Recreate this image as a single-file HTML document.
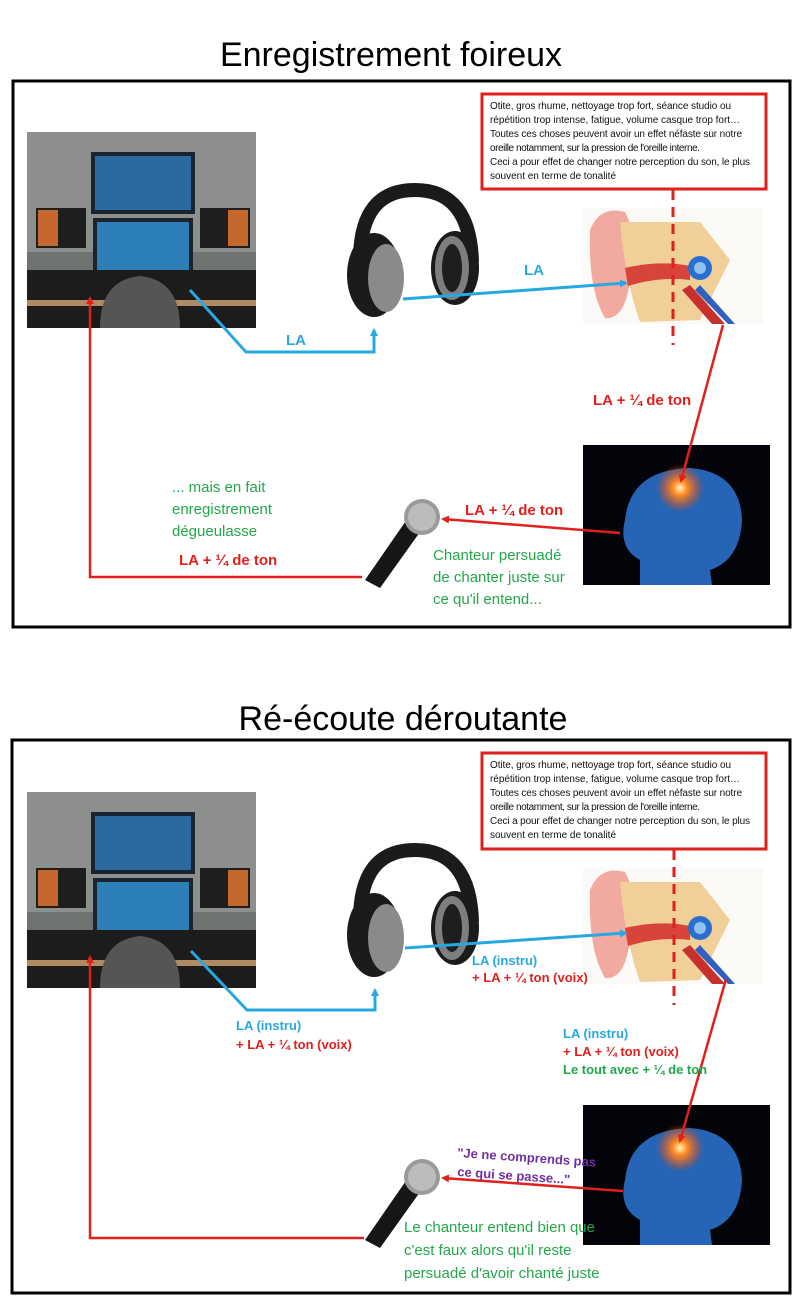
<!DOCTYPE html>
<html><head><meta charset="utf-8"><style>
html,body{margin:0;padding:0;background:#fff;}
svg{display:block;}
text{font-family:"Liberation Sans",sans-serif;}
.t{font-size:34px;fill:#000;}
.bx{font-size:10px;fill:#111;}
.b{font-size:15px;font-weight:bold;fill:#27a8e0;}
.r{font-size:15px;font-weight:bold;fill:#e0201c;}
.rs{font-size:13px;font-weight:bold;fill:#e0201c;}
.bs{font-size:13px;font-weight:bold;fill:#27a8e0;}
.gs{font-size:13px;font-weight:bold;fill:#22a84a;}
.g{font-size:15px;fill:#22a84a;}
.p{font-size:13px;font-weight:bold;fill:#7030a0;}
</style></head><body>
<svg width="800" height="1305" viewBox="0 0 800 1305" xmlns="http://www.w3.org/2000/svg">
<defs>
<marker id="ab" markerWidth="8" markerHeight="8" refX="6" refY="4" orient="auto" markerUnits="userSpaceOnUse"><path d="M0,0 L8,4 L0,8 z" fill="#27a8e0"/></marker>
<marker id="ar" markerWidth="8" markerHeight="8" refX="6" refY="4" orient="auto" markerUnits="userSpaceOnUse"><path d="M0,0 L8,4 L0,8 z" fill="#e0201c"/></marker>
<radialGradient id="glow"><stop offset="0" stop-color="#fff6c0"/><stop offset="0.3" stop-color="#ff8a20"/><stop offset="1" stop-color="#ff4000" stop-opacity="0"/></radialGradient>
<g id="imgs">
 <!-- studio -->
 <rect x="27" y="132" width="229" height="196" fill="#6f7472"/>
 <rect x="27" y="132" width="229" height="120" fill="#8c8f8b"/>
 <rect x="91" y="152" width="104" height="62" fill="#1a2430"/>
 <rect x="95" y="156" width="96" height="54" fill="#2a6aa0"/>
 <rect x="93" y="218" width="100" height="56" fill="#1a2430"/>
 <rect x="97" y="222" width="92" height="48" fill="#2d7fb8"/>
 <rect x="36" y="208" width="50" height="40" fill="#1e1e1e"/>
 <rect x="38" y="210" width="20" height="36" fill="#c5682d"/>
 <rect x="200" y="208" width="50" height="40" fill="#1e1e1e"/>
 <rect x="228" y="210" width="20" height="36" fill="#c5682d"/>
 <rect x="27" y="270" width="229" height="58" fill="#1c1c1c"/>
 <rect x="27" y="300" width="229" height="6" fill="#b08a60"/>
 <path d="M100,328 Q100,280 140,276 Q180,280 180,328z" fill="#555"/>
 <!-- headphones -->
 <path d="M360,260 Q360,190 415,190 Q470,190 472,262" fill="none" stroke="#1b1b1b" stroke-width="14"/>
 <ellipse cx="374" cy="275" rx="27" ry="42" fill="#1b1b1b"/>
 <ellipse cx="386" cy="278" rx="18" ry="34" fill="#8a8a8a"/>
 <ellipse cx="455" cy="268" rx="24" ry="37" fill="#1b1b1b"/>
 <ellipse cx="452" cy="268" rx="17" ry="32" fill="#7e7e7e"/>
 <ellipse cx="452" cy="268" rx="10" ry="24" fill="#1e1e1e"/>
 <!-- ear -->
 <rect x="583" y="208" width="180" height="116" fill="#fbfaf7"/>
 <path d="M590,230 Q600,205 625,212 Q640,240 630,280 Q625,320 605,318 Q588,290 590,230z" fill="#f2a9a0"/>
 <path d="M620,222 L700,222 L730,260 L700,320 L640,322 Q625,280 620,222z" fill="#f1cf98"/>
 <path d="M625,268 Q660,260 690,266 L690,280 Q660,276 628,286z" fill="#d9443a"/>
 <circle cx="700" cy="268" r="12" fill="#2a6fd0"/>
 <circle cx="700" cy="268" r="6" fill="#8fc0f0"/>
 <path d="M690,285 L725,324 L712,324 L682,290z" fill="#c83030"/>
 <path d="M700,285 L735,324 L728,324 L695,290z" fill="#3060c0"/>
 <!-- brain -->
 <rect x="583" y="445" width="187" height="140" fill="#02040a"/>
 <path d="M640,585 L640,560 Q618,548 625,520 Q630,470 690,468 Q740,472 742,520 Q740,560 710,570 L712,585z" fill="#2a6fc8" opacity="0.9"/>
 <circle cx="680" cy="488" r="24" fill="url(#glow)"/>
 <!-- mic -->
 <path d="M365,580 L410,515 L425,525 L380,588z" fill="#161616"/>
 <circle cx="422" cy="517" r="18" fill="#9a9a9a"/>
 <circle cx="422" cy="517" r="14" fill="#bcbcbc"/>
</g>
</defs>

<!-- Panel 1 -->
<text class="t" x="391" y="66" text-anchor="middle">Enregistrement foireux</text>
<rect x="13" y="81" width="777" height="546" fill="none" stroke="#000" stroke-width="3"/>
<use href="#imgs"/>
<rect x="482" y="94" width="284" height="95" fill="#fff" stroke="#e0201c" stroke-width="3"/>
<text class="bx" x="490" y="109" textLength="241">Otite, gros rhume, nettoyage trop fort, séance studio ou</text>
<text class="bx" x="490" y="123" textLength="250">répétition trop intense, fatigue, volume casque trop fort…</text>
<text class="bx" x="490" y="137" textLength="252">Toutes ces choses peuvent avoir un effet néfaste sur notre</text>
<text class="bx" x="490" y="151" textLength="210">oreille notamment, sur la pression de l'oreille interne.</text>
<text class="bx" x="490" y="165" textLength="260">Ceci a pour effet de changer notre perception du son, le plus</text>
<text class="bx" x="490" y="179" textLength="126">souvent en terme de tonalité</text>
<line x1="673" y1="190" x2="673" y2="345" stroke="#e0201c" stroke-width="3" stroke-dasharray="10,7"/>
<polyline points="190,290 246,352 374,352 374,330" fill="none" stroke="#27a8e0" stroke-width="3" marker-end="url(#ab)"/>
<line x1="403" y1="299" x2="626" y2="283" stroke="#27a8e0" stroke-width="3" marker-end="url(#ab)"/>
<line x1="723" y1="325" x2="681" y2="481" stroke="#e0201c" stroke-width="2.5" marker-end="url(#ar)"/>
<line x1="620" y1="533" x2="443" y2="519" stroke="#e0201c" stroke-width="2.5" marker-end="url(#ar)"/>
<polyline points="362,577 90,577 90,298" fill="none" stroke="#e0201c" stroke-width="2.5" marker-end="url(#ar)"/>
<text class="b" x="286" y="345">LA</text>
<text class="b" x="524" y="275">LA</text>
<text class="r" x="593" y="405">LA + ¼ de ton</text>
<text class="r" x="465" y="515">LA + ¼ de ton</text>
<text class="r" x="179" y="565">LA + ¼ de ton</text>
<text class="g" x="172" y="492">... mais en fait</text>
<text class="g" x="172" y="514">enregistrement</text>
<text class="g" x="172" y="536">dégueulasse</text>
<text class="g" x="433" y="560">Chanteur persuadé</text>
<text class="g" x="433" y="582">de chanter juste sur</text>
<text class="g" x="433" y="604">ce qu'il entend...</text>

<!-- Panel 2 -->
<text class="t" x="403" y="730" text-anchor="middle">Ré-écoute déroutante</text>
<rect x="12" y="740" width="778" height="553" fill="none" stroke="#000" stroke-width="3"/>
<use href="#imgs" transform="translate(0,660)"/>
<rect x="482" y="753" width="284" height="96" fill="#fff" stroke="#e0201c" stroke-width="3"/>
<text class="bx" x="490" y="768" textLength="241">Otite, gros rhume, nettoyage trop fort, séance studio ou</text>
<text class="bx" x="490" y="782" textLength="250">répétition trop intense, fatigue, volume casque trop fort…</text>
<text class="bx" x="490" y="796" textLength="252">Toutes ces choses peuvent avoir un effet néfaste sur notre</text>
<text class="bx" x="490" y="810" textLength="210">oreille notamment, sur la pression de l'oreille interne.</text>
<text class="bx" x="490" y="824" textLength="260">Ceci a pour effet de changer notre perception du son, le plus</text>
<text class="bx" x="490" y="838" textLength="126">souvent en terme de tonalité</text>
<line x1="674" y1="850" x2="674" y2="1005" stroke="#e0201c" stroke-width="3" stroke-dasharray="10,7"/>
<polyline points="191,951 247,1010 375,1010 375,990" fill="none" stroke="#27a8e0" stroke-width="3" marker-end="url(#ab)"/>
<line x1="405" y1="948" x2="626" y2="933" stroke="#27a8e0" stroke-width="3" marker-end="url(#ab)"/>
<line x1="726" y1="979" x2="680" y2="1141" stroke="#e0201c" stroke-width="2.5" marker-end="url(#ar)"/>
<line x1="623" y1="1191" x2="443" y2="1178" stroke="#e0201c" stroke-width="2.5" marker-end="url(#ar)"/>
<polyline points="364,1238 90,1238 90,957" fill="none" stroke="#e0201c" stroke-width="2.5" marker-end="url(#ar)"/>
<text class="bs" x="472" y="965">LA (instru)</text>
<text class="rs" x="472" y="982">+ LA + ¼ ton (voix)</text>
<text class="bs" x="236" y="1030">LA (instru)</text>
<text class="rs" x="236" y="1049">+ LA + ¼ ton (voix)</text>
<text class="bs" x="563" y="1038">LA (instru)</text>
<text class="rs" x="563" y="1056">+ LA + ¼ ton (voix)</text>
<text class="gs" x="563" y="1074">Le tout avec + ¼ de ton</text>
<text class="p" x="457" y="1157" transform="rotate(4 457 1157)">"Je ne comprends pas</text>
<text class="p" x="457" y="1176" transform="rotate(4 457 1176)">ce qui se passe..."</text>
<text class="g" x="404" y="1232">Le chanteur entend bien que</text>
<text class="g" x="404" y="1255">c'est faux alors qu'il reste</text>
<text class="g" x="404" y="1278">persuadé d'avoir chanté juste</text>
</svg>
</body></html>
